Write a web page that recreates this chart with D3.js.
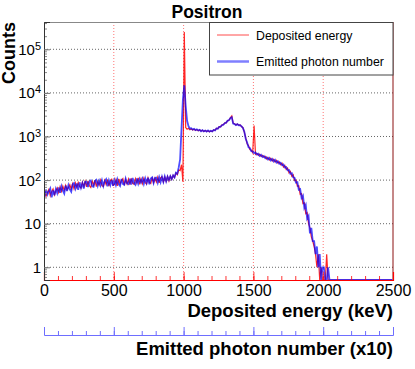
<!DOCTYPE html>
<html>
<head>
<meta charset="utf-8">
<script src="https://cdn.jsdelivr.net/npm/d3@7"></script>
<style>
body { margin: 0; background: #fff; }
text { font-family: "Liberation Sans", Arial, Helvetica, sans-serif; }
</style>
</head>
<body>
<div id="chart"></div>
<script>
// histogram bins, 10 keV wide, 0 - 2500 keV
var binWidth = 10;

var depositedEnergy = [
  58, 43, 52, 61, 44, 55, 63, 46, 57, 66,
  52, 70, 55, 73, 58, 76, 60, 68, 79, 62,
  82, 63, 86, 68, 88, 71, 66, 90, 72, 94,
  70, 96, 74, 68, 97, 76, 99, 71, 93, 77,
  100, 75, 71, 98, 79, 103, 73, 96, 104, 76,
  79, 102, 74, 106, 81, 99, 108, 77, 103, 82,
  106, 79, 110, 84, 80, 108, 86, 112, 80, 107,
  83, 111, 87, 81, 113, 89, 84, 115, 88, 112,
  90, 117, 86, 113, 120, 91, 118, 94, 122, 96,
  124, 104, 128, 114, 146, 133, 170, 165, 225, 92,
  250000, 1600, 1470, 1540, 1430, 1510, 1410, 1470, 1390, 1440,
  1350, 1420, 1330, 1390, 1310, 1380, 1300, 1360, 1280, 1340,
  1300, 1420, 1390, 1540, 1520, 1680, 1670, 1850, 1860, 2050,
  2060, 2320, 2350, 2680, 2950, 2020, 1960, 1840, 1940, 1820,
  1840, 1690, 1590, 1260, 930, 680, 620, 500, 485, 425,
  1780, 390, 412, 368, 392, 350, 368, 334, 350, 305,
  330, 290, 315, 276, 300, 260, 285, 245, 262, 225,
  245, 200, 218, 175, 188, 146, 158, 122, 132, 98,
  100, 72, 74, 47, 49, 29, 30, 17, 18, 10,
  8, 5, 4, 3, 2, 1, 2, 0, 1, 0,
  0, 0, 2, 0, 0, 0, 0, 0, 0, 0,
  0, 0, 0, 0, 0, 0, 0, 0, 0, 0,
  0, 0, 0, 0, 0, 0, 0, 0, 0, 0,
  0, 0, 0, 0, 0, 0, 0, 0, 0, 0,
  0, 0, 0, 0, 0, 0, 0, 0, 0, 0
];

var emittedPhotons = [
  42, 60, 47, 55, 64, 40, 58, 45, 63, 50,
  68, 51, 72, 57, 49, 75, 56, 77, 61, 54,
  80, 86, 64, 84, 60, 89, 67, 85, 64, 92,
  91, 69, 93, 98, 72, 70, 95, 101, 74, 96,
  76, 99, 73, 95, 105, 72, 98, 77, 101, 74,
  99, 77, 104, 80, 73, 106, 82, 78, 108, 84,
  81, 107, 79, 112, 85, 78, 109, 83, 106, 88,
  108, 82, 110, 86, 113, 80, 109, 116, 86, 112,
  114, 87, 116, 90, 118, 91, 121, 94, 120, 101,
  123, 106, 128, 116, 148, 140, 195, 300, 1500, 7000,
  15000, 5000, 2300, 1720, 1520, 1540, 1440, 1500, 1400, 1460,
  1370, 1420, 1320, 1400, 1310, 1370, 1290, 1380, 1290, 1350,
  1310, 1410, 1380, 1530, 1510, 1660, 1680, 1820, 1870, 2020,
  2080, 2290, 2370, 2640, 2780, 1980, 1930, 1830, 1920, 1810,
  1820, 1700, 1570, 1290, 890, 730, 570, 540, 460, 455,
  415, 430, 385, 402, 358, 380, 338, 355, 318, 335,
  298, 322, 282, 305, 268, 292, 252, 270, 238, 250,
  220, 228, 196, 200, 168, 170, 140, 144, 116, 112,
  88, 90, 60, 62, 39, 44, 23, 27, 13, 15,
  6, 8, 4, 4, 2, 3, 1, 2, 0, 1,
  1, 0, 0, 1, 0, 0, 0, 0, 0, 0,
  0, 0, 0, 0, 0, 0, 0, 0, 0, 0,
  0, 0, 0, 0, 0, 0, 0, 0, 0, 0,
  0, 0, 0, 0, 0, 0, 0, 0, 0, 0,
  0, 0, 0, 0, 0, 0, 0, 0, 0, 0
];

var xMajorTicks = [0, 500, 1000, 1500, 2000, 2500];
var xGridValues = [500, 1000, 1500, 2000];
var yDecades = [1, 10, 100, 1000, 10000, 100000];
var yLabelBase = ["1", "10", "10", "10", "10", "10"];
var yLabelExp = ["", "", "2", "3", "4", "5"];
var legendLabels = ["Deposited energy", "Emitted photon number"];

var svgWidth = 415, svgHeight = 369;
var plotLeft = 44, plotRight = 393, plotTop = 22, plotBottom = 280;
var yMin = 0.511, yMax = 4.23e5;

var svg = d3.select('#chart').append('svg')
    .attr('width', svgWidth)
    .attr('height', svgHeight);

var x = d3.scaleLinear().domain([0, 2500]).range([plotLeft, plotRight]);
var y = d3.scaleLog().domain([yMin, yMax]).range([plotBottom, plotTop]);

svg.append('clipPath').attr('id', 'plotclip')
    .append('rect')
    .attr('x', plotLeft).attr('y', plotTop)
    .attr('width', plotRight - plotLeft).attr('height', plotBottom - plotTop);

// grid
svg.append('g')
    .selectAll('line')
    .data(yDecades)
    .join('line')
    .attr('x1', plotLeft).attr('x2', plotRight)
    .attr('y1', d => y(d)).attr('y2', d => y(d))
    .attr('stroke', '#666')
    .attr('stroke-dasharray', '1,2');

svg.append('g')
    .selectAll('line')
    .data(xGridValues)
    .join('line')
    .attr('x1', d => x(d)).attr('x2', d => x(d))
    .attr('y1', plotTop).attr('y2', plotBottom)
    .attr('stroke', 'rgba(255,0,0,0.55)')
    .attr('stroke-dasharray', '1,2');

// histograms, drawn through bin centres
var histLine = d3.line()
    .x((d, i) => x((i + 0.5) * binWidth))
    .y(d => y(Math.max(d, yMin)));

var plot = svg.append('g').attr('clip-path', 'url(#plotclip)');

plot.append('path')
    .attr('d', histLine(depositedEnergy))
    .attr('fill', 'none')
    .attr('stroke', 'rgba(255,0,0,0.85)')
    .attr('stroke-width', 1.2);

plot.append('path')
    .attr('d', histLine(emittedPhotons))
    .attr('fill', 'none')
    .attr('stroke', 'rgba(0,0,255,0.7)')
    .attr('stroke-width', 1.8);

// frame: top and right
svg.append('line')
    .attr('x1', plotLeft).attr('x2', plotRight).attr('y1', plotTop + 0.5).attr('y2', plotTop + 0.5)
    .attr('stroke', '#888');
svg.append('line')
    .attr('x1', plotRight).attr('x2', plotRight).attr('y1', plotTop).attr('y2', plotBottom)
    .attr('stroke', '#8b1010');

// x axis (red, ticks inside)
var xMinor = d3.axisBottom(x).tickValues(d3.range(0, 2501, 100)).tickSize(-4).tickFormat('');
var gxMinor = svg.append('g').attr('transform', 'translate(0,' + plotBottom + ')').call(xMinor);
gxMinor.select('.domain').remove();
gxMinor.selectAll('line').attr('stroke', 'rgba(255,0,0,0.8)');

var xAxis = d3.axisBottom(x).tickValues(xMajorTicks).tickSize(-8).tickPadding(5).tickFormat(d3.format('d'));
var gx = svg.append('g').attr('transform', 'translate(0,' + plotBottom + ')').call(xAxis);
gx.select('.domain').attr('stroke', 'red').attr('stroke-width', 1.2);
gx.selectAll('line').attr('stroke', 'rgba(255,0,0,0.8)');
gx.selectAll('text').attr('font-size', 16).attr('fill', '#000')
    .attr('font-family', '"Liberation Sans", Arial, sans-serif');

// y axis (ticks inside)
var yMinor = d3.axisLeft(y).tickValues(y.ticks()).tickSize(-3).tickFormat('');
var gyMinor = svg.append('g').attr('transform', 'translate(' + plotLeft + ',0)').call(yMinor);
gyMinor.select('.domain').remove();
gyMinor.selectAll('line').attr('stroke', '#888');

var yAxis = d3.axisLeft(y).tickValues(yDecades).tickSize(-6).tickFormat('');
var gy = svg.append('g').attr('transform', 'translate(' + plotLeft + ',0)').call(yAxis);
gy.select('.domain').attr('stroke', '#333');
gy.selectAll('line').attr('stroke', '#777');

var yLab = svg.append('g').selectAll('text')
    .data(yDecades)
    .join('text')
    .attr('x', 41)
    .attr('y', d => y(d) + 5.5)
    .attr('text-anchor', 'end')
    .attr('font-size', 15);
yLab.append('tspan').text((d, i) => yLabelBase[i]);
yLab.append('tspan')
    .attr('font-size', 11)
    .attr('dy', -5)
    .text((d, i) => yLabelExp[i]);

// second axis: emitted photon number
var photonAxisY = 335;
var pMinor = d3.axisBottom(x).tickValues(d3.range(0, 2501, 100)).tickSize(-4).tickFormat('');
var gp1 = svg.append('g').attr('transform', 'translate(0,' + photonAxisY + ')').call(pMinor);
gp1.select('.domain').remove();
gp1.selectAll('line').attr('stroke', 'rgb(110,110,255)');
var pAxis = d3.axisBottom(x).tickValues(xMajorTicks).tickSize(-8).tickFormat('');
var gp2 = svg.append('g').attr('transform', 'translate(0,' + photonAxisY + ')').call(pAxis);
gp2.select('.domain').attr('stroke', 'rgb(110,110,255)');
gp2.selectAll('line').attr('stroke', 'rgb(110,110,255)');

// titles
svg.append('text')
    .attr('x', 207).attr('y', 18)
    .attr('text-anchor', 'middle')
    .attr('font-size', 17.5).attr('font-weight', 'bold')
    .text('Positron');

svg.append('text')
    .attr('x', plotRight).attr('y', 317)
    .attr('text-anchor', 'end')
    .attr('font-size', 18.5).attr('font-weight', 'bold')
    .text('Deposited energy (keV)');

svg.append('text')
    .attr('x', plotRight).attr('y', 355)
    .attr('text-anchor', 'end')
    .attr('font-size', 18.5).attr('font-weight', 'bold')
    .text('Emitted photon number (x10)');

svg.append('text')
    .attr('transform', 'translate(15,' + plotTop + ') rotate(-90)')
    .attr('text-anchor', 'end')
    .attr('font-size', 18).attr('font-weight', 'bold')
    .text('Counts');

// legend
var legend = svg.append('g');
legend.append('rect')
    .attr('x', 209.5).attr('y', 22.5)
    .attr('width', 183.5).attr('height', 52.5)
    .attr('fill', '#fff')
    .attr('stroke', '#444');

var legendColors = ['rgba(255,0,0,0.7)', 'rgba(0,0,255,0.5)'];
var legendWidths = [1, 2.5];
var legendRows = legend.selectAll('g.row')
    .data(legendLabels)
    .join('g')
    .attr('class', 'row')
    .attr('transform', (d, i) => 'translate(0,' + (35 + i * 26.5) + ')');
legendRows.append('line')
    .attr('x1', 217).attr('x2', 249)
    .attr('stroke', (d, i) => legendColors[i])
    .attr('stroke-width', (d, i) => legendWidths[i]);
legendRows.append('text')
    .attr('x', 256).attr('y', 4.5)
    .attr('font-size', 12.3)
    .text(d => d);
</script>
</body>
</html>
